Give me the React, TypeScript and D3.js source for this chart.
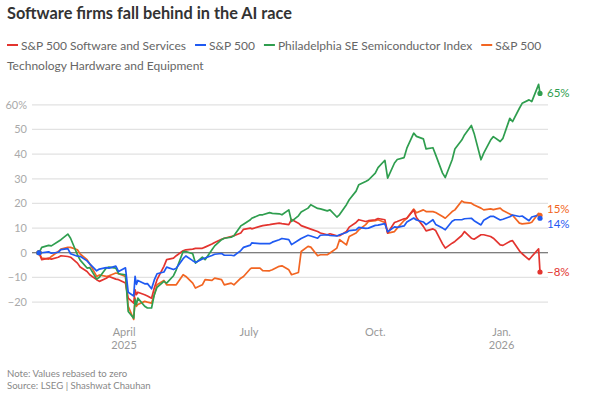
import { useRef, useEffect } from "react";
import * as d3 from "d3";

// twice-weekly closes (plus extra days around the April sell-off), rebased to zero
const dates = [
  "2025-01-29", "2025-01-31", "2025-02-05", "2025-02-07", "2025-02-12", "2025-02-14", "2025-02-19", "2025-02-21", "2025-02-26", "2025-02-28",
  "2025-03-05", "2025-03-07", "2025-03-12", "2025-03-14", "2025-03-19", "2025-03-21", "2025-03-26", "2025-03-28", "2025-04-02", "2025-04-04",
  "2025-04-08", "2025-04-09", "2025-04-10", "2025-04-11", "2025-04-16", "2025-04-18", "2025-04-21", "2025-04-23", "2025-04-25", "2025-04-30",
  "2025-05-02", "2025-05-07", "2025-05-09", "2025-05-14", "2025-05-16", "2025-05-21", "2025-05-23", "2025-05-28", "2025-05-30", "2025-06-04",
  "2025-06-06", "2025-06-11", "2025-06-13", "2025-06-18", "2025-06-20", "2025-06-25", "2025-06-27", "2025-07-02", "2025-07-03", "2025-07-09",
  "2025-07-11", "2025-07-16", "2025-07-18", "2025-07-23", "2025-07-25", "2025-07-30", "2025-08-01", "2025-08-06", "2025-08-08", "2025-08-13",
  "2025-08-15", "2025-08-20", "2025-08-22", "2025-08-27", "2025-08-29", "2025-09-03", "2025-09-05", "2025-09-10", "2025-09-12", "2025-09-17",
  "2025-09-19", "2025-09-24", "2025-09-26", "2025-10-01", "2025-10-03", "2025-10-08", "2025-10-10", "2025-10-15", "2025-10-17", "2025-10-22",
  "2025-10-24", "2025-10-29", "2025-10-31", "2025-11-05", "2025-11-07", "2025-11-12", "2025-11-14", "2025-11-19", "2025-11-21", "2025-11-26",
  "2025-11-28", "2025-12-03", "2025-12-05", "2025-12-10", "2025-12-12", "2025-12-17", "2025-12-19", "2025-12-24", "2025-12-26", "2025-12-31",
  "2026-01-02", "2026-01-07", "2026-01-09", "2026-01-14", "2026-01-16", "2026-01-21", "2026-01-23", "2026-01-28", "2026-01-29",
];

const softwareServices = [
  0, -2.8, -2.2, -2.6, -1.8, -1.2, -1.5, -1.8, -4.2, -5.8,
  -7.6, -8.9, -10.9, -11.6, -10.3, -9.6, -10.7, -10.9, -12.3, -18.4,
  -20.4, -15, -17, -16, -17, -17.5, -18.4, -14.3, -10.9, -5.5,
  -2.8, -2.2, -1.2, 0.8, 1.2, 1.5, 1.8, 1.8, 2.3, 3.6,
  4.2, 5.5, 5.9, 6.6, 6.9, 8.0, 9.5, 10.0, 9.7, 10.7,
  11.0, 11.4, 11.6, 12.0, 11.8, 11.4, 13.5, 12.0, 11.0, 10.0,
  9.6, 8.6, 8.0, 7.3, 7.7, 6.9, 6.9, 8.6, 10.4, 12.3,
  13.4, 12.7, 13.0, 13.4, 13.9, 13.4, 8.0, 12.3, 12.7, 13.8,
  14.0, 17.4, 14.3, 10.7, 8.9, 9.7, 9.0, 3.6, 1.9, 3.9,
  4.6, 7.0, 8.6, 5.9, 5.5, 7.3, 7.3, 6.6, 5.9, 3.2,
  3.0, 4.6, 4.9, 0.8, -0.4, -2.8, -1.5, 1.6, -7.8,
];

const sp500 = [
  0, 0.0, 0.4, -0.2, 0.2, 1.3, 1.7, -0.4, -1.4, -1.4,
  -3.3, -4.5, -7.3, -6.6, -6.0, -6.2, -5.4, -7.6, -6.1, -16.0,
  -17.5, -9.6, -12.8, -11.2, -12.6, -12.5, -14.6, -11.0, -8.5, -7.8,
  -5.8, -6.8, -6.3, -2.4, -1.3, -3.2, -3.9, -2.5, -2.1, -1.1,
  -0.6, -0.3, -1.0, -1.0, -1.2, 0.9, 2.2, 3.1, 4.0, 3.7,
  3.7, 3.7, 4.3, 5.3, 5.8, 5.3, 3.3, 5.1, 5.8, 7.1,
  6.8, 5.9, 7.1, 7.3, 7.0, 6.8, 7.3, 8.2, 9.0, 9.3,
  10.3, 9.9, 10.0, 11.1, 11.2, 11.8, 8.5, 10.5, 10.3, 10.9,
  12.5, 14.1, 13.3, 12.5, 11.4, 13.4, 11.5, 10.0, 9.3, 12.8,
  13.4, 13.4, 13.8, 14.0, 13.0, 11.3, 13.2, 14.8, 14.8, 13.3,
  13.6, 14.6, 15.3, 14.7, 14.9, 13.0, 14.5, 15.3, 14.0,
];

const semiconductors = [
  0, 2.2, 3.0, 2.8, 4.6, 5.3, 7.6, 5.9, -0.8, -3.0,
  -6.2, -6.0, -10.7, -9.9, -6.2, -5.8, -6.2, -8.5, -8.9, -23.8,
  -26.5, -19, -21, -18.4, -21.7, -22.4, -22.4, -17, -14, -11.6,
  -12.3, -9.3, -6.9, 0.5, 0.5, -0.4, -4.2, -1.8, -2.8, 1.2,
  2.8, 5.3, 5.9, 6.3, 6.9, 10.9, 11.6, 13.4, 14.0, 15.4,
  15.4, 16.3, 16.0, 15.8, 15.4, 17.4, 12.7, 15.0, 16.5, 18.1,
  19.5, 18.0, 17.8, 17.0, 17.4, 14.5, 15.5, 19.5, 21.5, 25.0,
  27.6, 28.9, 29.5, 32.3, 34.5, 37.5, 30.3, 36.4, 37.8, 38.6,
  42.4, 48.5, 47.2, 46.2, 42.1, 42.6, 39.7, 32.3, 30.5, 37.7,
  42.1, 45.7, 47.8, 51.6, 48.4, 37.7, 40.4, 45.7, 47.1, 45.1,
  46.4, 54.5, 53.2, 58.6, 60.6, 62.0, 61.3, 68.3, 64.6,
];

const techHardware = [
  0, -2.2, -2.6, -1.5, 0.5, 1.5, 2.2, 2.2, 1.2, -0.5,
  -2.8, -4.5, -9.6, -9.0, -9.6, -9.3, -8.2, -8.5, -9.6, -21.7,
  -27, -18.4, -21.7, -21, -19.7, -20, -20.4, -17, -13, -11.2,
  -13, -13, -13, -8.9, -9.6, -12.3, -14.3, -13, -10.9, -11.2,
  -10.3, -10.9, -13, -12.3, -13, -10.3, -9.6, -6.5, -6.2, -6.2,
  -7.2, -7.3, -6.9, -5.5, -5.3, -6.9, -8.9, -8.0, 0.5, 2.6,
  2.3, -1.2, -0.8, -0.8, -0.1, 1.9, 5.3, 3.2, 6.6, 8.0,
  9.3, 11.4, 12.7, 13.0, 13.4, 12.3, 8.0, 8.6, 10.0, 13.1,
  14.0, 17.7, 16.2, 17.4, 16.7, 16.7, 16.3, 14.7, 14.0, 16.7,
  17.4, 21.0, 20.4, 20.1, 19.4, 18.1, 17.4, 17.8, 17.5, 18.1,
  17.1, 15.7, 15.2, 12.0, 11.7, 12.0, 12.4, 16.0, 15.2,
];

const seriesNames = [
  "S&P 500 Software and Services",
  "S&P 500",
  "Philadelphia SE Semiconductor Index",
  "S&P 500 Technology Hardware and Equipment",
];
const seriesColors = ["#e3342f", "#1f5af2", "#2f9e4f", "#f26522"];

const yTicks = [-20, -10, 0, 10, 20, 30, 40, 50, 60];
const xTickDates = ["2025-04-01", "2025-07-01", "2025-10-01", "2026-01-01"];
const xTickMonths = ["April", "July", "Oct.", "Jan."];
const xTickYears = ["2025", "", "", "2026"];

const W = 602;
const H = 399;
const FONT = "Lato, 'Noto Sans', sans-serif";

export default function App() {
  const ref = useRef<SVGSVGElement | null>(null);

  useEffect(() => {
    if (!ref.current) return;
    const svg = d3.select(ref.current);
    svg.selectAll("*").remove();

    const parse = d3.timeParse("%Y-%m-%d");
    const xDates = dates.map((d) => parse(d) as Date);
    const allValues = [softwareServices, sp500, semiconductors, techHardware];

    const x = d3.scaleTime().domain([xDates[0], xDates[xDates.length - 1]]).range([39, 540]);
    const y = d3.scaleLinear().domain([-20, 60]).range([302.1, 104.8]);

    // title
    svg.append("text")
      .attr("x", 7).attr("y", 19)
      .style("font-family", FONT).style("font-size", "16.3px").style("font-weight", 700)
      .style("fill", "#333")
      .text("Software firms fall behind in the AI race");

    // legend, flowing words onto a second line when needed
    const legend = svg.append("g").style("font-family", FONT).style("font-size", "12px").style("fill", "#666");
    const maxX = 594;
    let cx = 7;
    let cy = 45;
    seriesNames.forEach((name, i) => {
      legend.append("line")
        .attr("x1", cx).attr("x2", cx + 11).attr("y1", cy).attr("y2", cy)
        .attr("stroke", seriesColors[i]).attr("stroke-width", 2);
      cx += 14;
      let t = legend.append("text").attr("x", cx).attr("y", cy + 4.5);
      let line = "";
      name.split(" ").forEach((w) => {
        const test = line ? line + " " + w : w;
        t.text(test);
        if (cx + (t.node() as SVGTextElement).getComputedTextLength() > maxX && line) {
          t.text(line);
          cx = 7;
          cy += 20;
          t = legend.append("text").attr("x", cx).attr("y", cy + 4.5).text(w);
          line = w;
        } else {
          line = test;
        }
      });
      cx += (t.node() as SVGTextElement).getComputedTextLength() + 9;
    });

    // grid + y labels
    const grid = svg.append("g");
    yTicks.forEach((v) => {
      grid.append("line")
        .attr("x1", 32).attr("x2", 548).attr("y1", y(v)).attr("y2", y(v))
        .attr("stroke", v === 0 ? "#555" : "#e2e2e2").attr("stroke-width", v === 0 ? 1.1 : 1.3);
      grid.append("text")
        .attr("x", 27).attr("y", y(v) + 4)
        .attr("text-anchor", "end")
        .style("font-family", FONT).style("font-size", "11px").style("fill", "#aaa")
        .text(v === 60 ? "60%" : v < 0 ? "\u2212" + Math.abs(v) : String(v));
    });

    // x labels
    xTickDates.forEach((d, i) => {
      const px = x(parse(d) as Date);
      const t = svg.append("text")
        .attr("x", px).attr("y", 336)
        .attr("text-anchor", "middle")
        .style("font-family", FONT).style("font-size", "11px").style("fill", "#999");
      t.append("tspan").attr("x", px).text(xTickMonths[i]);
      if (xTickYears[i]) t.append("tspan").attr("x", px).attr("dy", 13).text(xTickYears[i]);
    });

    // lines
    const line = d3.line<number>()
      .x((_, i) => x(xDates[i]))
      .y((v) => y(v));
    const order = [3, 0, 2, 1];
    order.forEach((i) => {
      svg.append("path")
        .attr("d", line(allValues[i]) ?? "")
        .attr("fill", "none")
        .attr("stroke", seriesColors[i])
        .attr("stroke-width", 1.7)
        .attr("stroke-linejoin", "round");
    });
    order.forEach((i) => {
      const vals = allValues[i];
      svg.append("circle").attr("cx", x(xDates[0])).attr("cy", y(vals[0])).attr("r", 2.6).attr("fill", seriesColors[i]);
      svg.append("circle")
        .attr("cx", x(xDates[xDates.length - 1])).attr("cy", y(vals[vals.length - 1]))
        .attr("r", 2.6).attr("fill", seriesColors[i]);
    });

    // end labels with simple collision avoidance
    const ends = allValues.map((vals, i) => ({
      i,
      v: vals[vals.length - 1],
      py: y(vals[vals.length - 1]),
    }));
    ends.sort((a, b) => a.py - b.py);
    for (let k = 1; k < ends.length; k++) {
      const gap = ends[k].py - ends[k - 1].py;
      if (gap < 15) {
        const mid = (ends[k].py + ends[k - 1].py) / 2;
        ends[k - 1].py = mid - 7.5;
        ends[k].py = mid + 7.5;
      }
    }
    ends.forEach((e) => {
      const r = Math.round(e.v);
      svg.append("text")
        .attr("x", 547).attr("y", e.py + 4)
        .style("font-family", FONT).style("font-size", "11.5px").style("fill", seriesColors[e.i])
        .text((r < 0 ? "\u2212" + Math.abs(r) : String(r)) + "%");
    });

    // footnotes
    const foot = svg.append("g").style("font-family", FONT).style("font-size", "9.6px").style("fill", "#888");
    foot.append("text").attr("x", 7).attr("y", 377).text("Note: Values rebased to zero");
    foot.append("text").attr("x", 7).attr("y", 389).text("Source: LSEG | Shashwat Chauhan");
  }, []);

  return (
    <svg
      ref={ref}
      width={W}
      height={H}
      style={{ position: "absolute", left: 0, top: 0, background: "#fff" }}
    />
  );
}
